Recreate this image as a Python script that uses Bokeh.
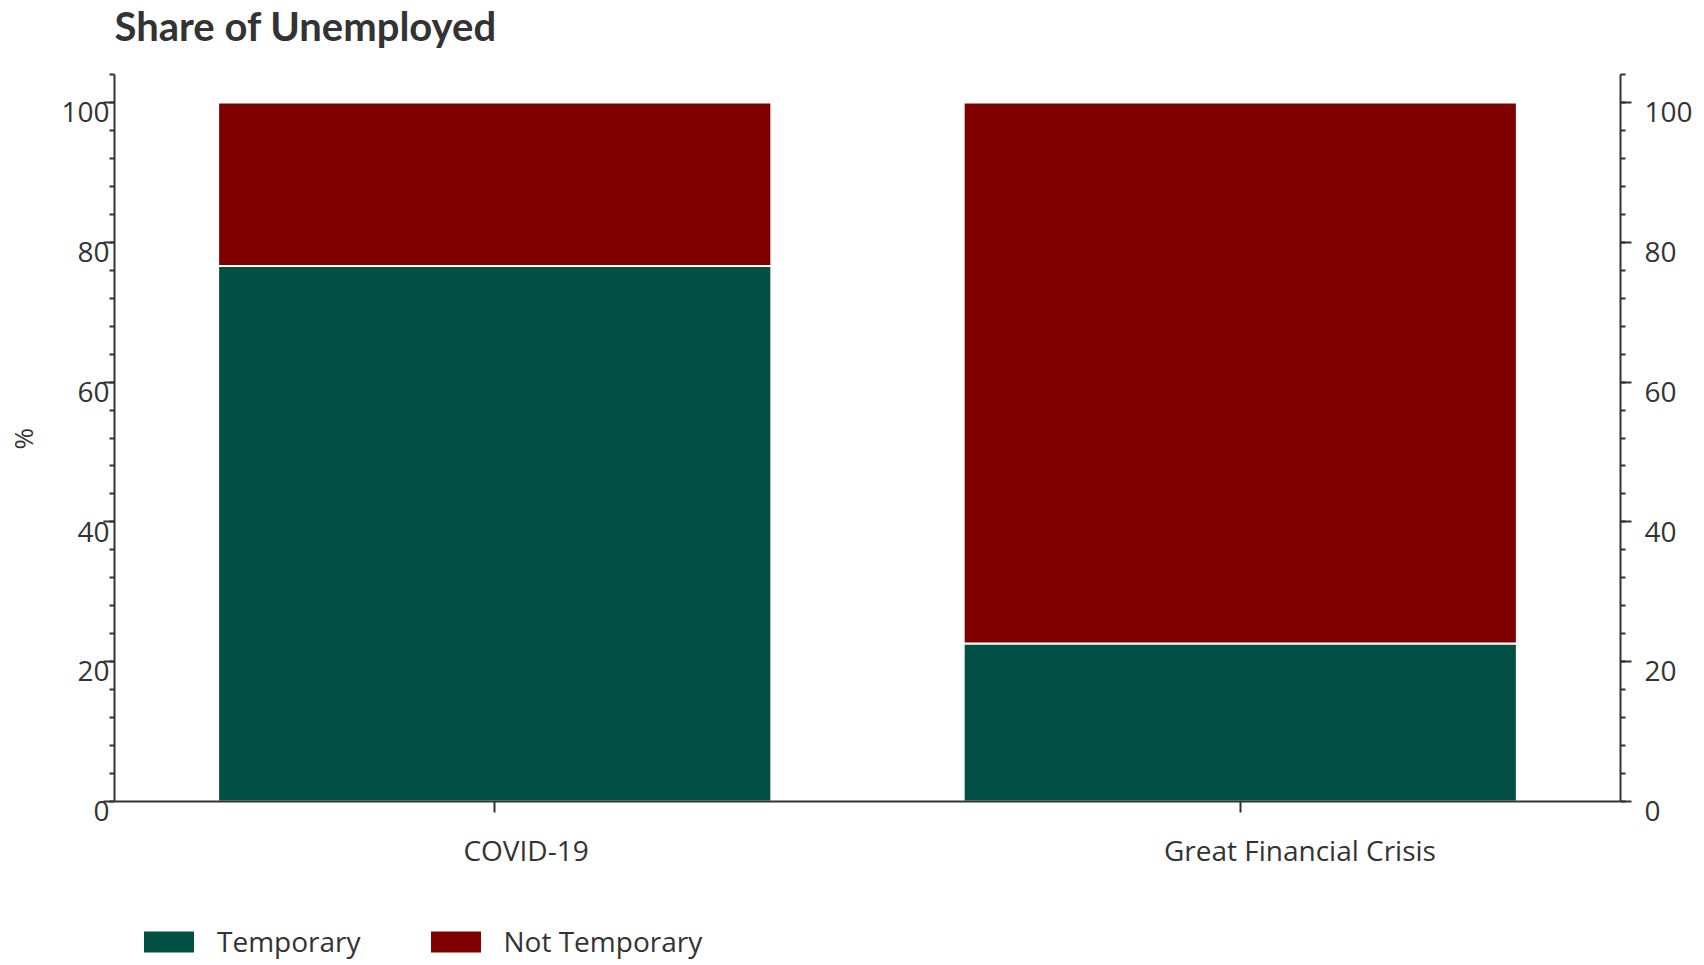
from bokeh.plotting import figure
from bokeh.models import (Range1d, LinearAxis, FixedTicker, Legend, LegendItem,
                          ColumnDataSource, Title, Label)
from bokeh.core.properties import value
from bokeh.embed import file_html
from bokeh.resources import INLINE

# ---- data ----
title_text = "Share of Unemployed"
categories = ["COVID-19", "Great Financial Crisis"]
temporary = [76.6, 22.6]
not_temporary = [23.4, 77.4]
y_ticks = [0, 20, 40, 60, 80, 100]
series_names = ["Temporary", "Not Temporary"]
series_colors = ["#024F43", "#800000"]

TEXT = "#333333"
FONT = "Open Sans"

x_idx = list(range(len(categories)))
src = ColumnDataSource(dict(x=x_idx, Temporary=temporary, NotTemporary=not_temporary))

# frame covers the full page height; value 0 sits at y=801 px, 104 at y=74 px
PX_PER_UNIT = 727 / 104
p = figure(width=1704, height=965, output_backend="svg", toolbar_location=None,
           title_location=None,
           x_range=Range1d(-0.51, 1.51),
           y_range=Range1d(-164 / PX_PER_UNIT, 801 / PX_PER_UNIT),
           min_border_left=114, min_border_right=84, min_border_top=0,
           min_border_bottom=0, x_axis_location=None, y_axis_location=None)
p.outline_line_color = None
p.xgrid.visible = False
p.ygrid.visible = False

r = p.vbar_stack(["Temporary", "NotTemporary"], x="x", width=0.742, source=src,
                 color=series_colors, line_color="white", line_width=2)

# chart title (top-left, aligned with the left axis)
p.add_layout(Label(x=0, y=965 - 25, x_units="screen", y_units="screen",
                   text=title_text, text_font="Lato", text_font_size="40px",
                   text_font_style="bold", text_color=TEXT,
                   text_baseline="alphabetic", text_align="left"))


def style_y(ax, side):
    ax.bounds = (0, 104)
    ax.ticker = FixedTicker(ticks=y_ticks, minor_ticks=list(range(0, 105, 4)))
    ax.axis_line_color = TEXT
    ax.axis_line_width = 2
    ax.major_tick_line_color = TEXT
    ax.major_tick_line_width = 2
    ax.minor_tick_line_color = TEXT
    ax.minor_tick_line_width = 2
    ax.major_tick_in = 0
    ax.minor_tick_in = 0
    ax.major_tick_out = 11
    ax.minor_tick_out = 5
    ax.major_label_text_font = FONT
    ax.major_label_text_font_size = "28px"
    ax.major_label_text_color = TEXT
    ax.major_label_text_line_height = 0.46
    # labels sit just below their tick, as in the original
    ax.major_label_overrides = {t: "\n" + str(t) for t in y_ticks}
    ax.major_label_standoff = -6 if side == "left" else 13


yl = LinearAxis()
style_y(yl, "left")

# "%" unit label, centred on the 0-104 span of the axis
pct = Title(text="%\n", align="left", offset=516, vertical_align="bottom",
            standoff=0, text_font=FONT, text_font_size="26px",
            text_font_style="normal", text_color=TEXT, text_line_height=0.48)
p.left = [yl, pct]

yr = LinearAxis()
style_y(yr, "right")
p.add_layout(yr, "right")

# baseline axis at value 0 with category tick marks pointing down
xb = LinearAxis(ticker=FixedTicker(ticks=x_idx, minor_ticks=[]), fixed_location=0)
xb.axis_line_color = TEXT
xb.axis_line_width = 2
xb.major_tick_line_color = TEXT
xb.major_tick_line_width = 2
xb.major_tick_in = 11
xb.major_tick_out = 0
xb.major_label_standoff = 0
xb.major_label_text_font_size = "0px"
xb.major_label_overrides = {i: "" for i in x_idx}
p.add_layout(xb, "above")

# category names, placed as in the original (right of the tick marks)
label_offsets = [0.042, 0.080]
label_pos = [x_idx[i] + label_offsets[i] for i in x_idx]
p.text(x=label_pos, y=[0] * len(categories), text=categories, y_offset=48,
       text_align="center", text_baseline="middle", text_font=value(FONT),
       text_font_size="28px", text_color=TEXT)

legend = Legend(items=[LegendItem(label=n, renderers=[r[i]]) for i, n in enumerate(series_names)],
                location=(22, 5), orientation="horizontal",
                glyph_width=65, glyph_height=29, label_standoff=16,
                label_text_font=FONT, label_text_font_size="28px",
                label_text_color=TEXT, padding=0, margin=0, spacing=62,
                border_line_color=None, background_fill_alpha=0)
p.add_layout(legend, "center")

open("out.html", "w").write(file_html(p, INLINE))
